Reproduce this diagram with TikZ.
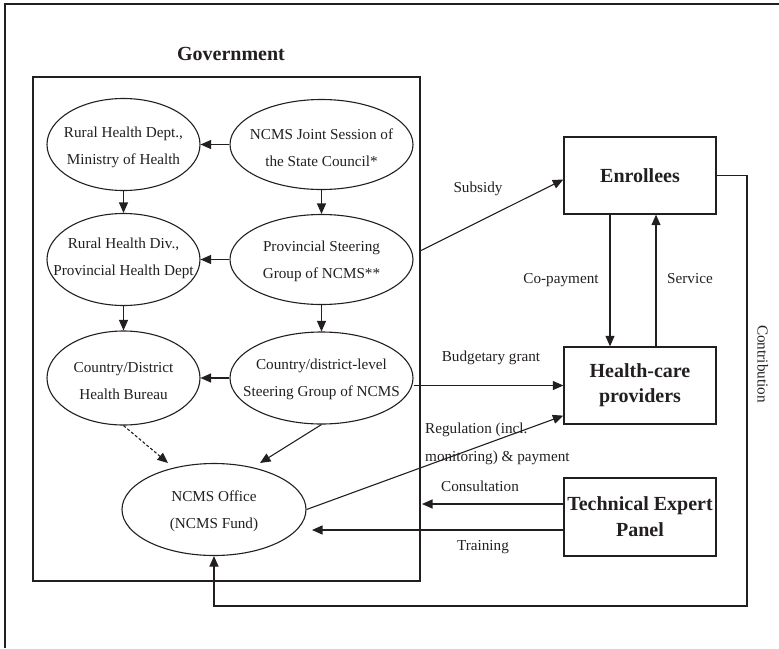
\documentclass[tikz,border=0pt]{standalone}
\usepackage{fontspec}
\setmainfont{Liberation Serif}
\usetikzlibrary{arrows.meta,shapes.geometric}
\definecolor{ink}{HTML}{231F20}
\begin{document}
\begin{tikzpicture}[x=1pt,y=-1pt,
  every node/.style={text=ink},
  ell/.style={draw=ink, ellipse, line width=1.1pt, inner sep=0pt},
  elltxt/.style={align=center, font=\fontsize{15.2}{27}\selectfont, inner sep=0pt},
  bx/.style={draw=ink, line width=1.3pt, minimum width=152pt, minimum height=77pt, inner sep=1pt, align=center, font=\fontsize{20}{25}\selectfont\bfseries},
  lbl/.style={font=\fontsize{15.2}{28}\selectfont, inner sep=0pt, text height=0.7em, text depth=0.2em},
  arr/.style={draw=ink, line width=1.1pt, -{Triangle[length=10.5pt,width=9pt]}},
  darr/.style={arr, dash pattern=on 3pt off 2pt}
]
\useasboundingbox (0,0) rectangle (779,648);
\draw[line width=1.4pt, draw=ink] (5,648) -- (5,4) -- (779,4);

\node[font=\fontsize{20}{24}\selectfont\bfseries, inner sep=0pt] (govlbl) at (231,54) {Government};
\node[draw=ink, line width=1.3pt, minimum width=387pt, minimum height=504pt, inner sep=0pt] (gov) at (226.5,329) {};

% ellipses
\node[ell, minimum width=153pt, minimum height=92pt] (A) at (123.5,144.5) {};
\node[elltxt] (At) at (123.5,147.5) {Rural Health Dept.,\\Ministry of Health};
\node[ell, minimum width=183pt, minimum height=90pt] (B) at (321.5,144.5) {};
\node[elltxt] (Bt) at (321.5,147.5) {NCMS Joint Session of\\the State Council*};
\node[ell, minimum width=153pt, minimum height=92pt] (C) at (123.5,259.5) {};
\node[elltxt] (Ct) at (123.5,258.5) {Rural Health Div.,\\Provincial Health Dept};
\node[ell, minimum width=183pt, minimum height=90pt] (D) at (321.5,259.5) {};
\node[elltxt] (Dt) at (321.5,261) {Provincial Steering\\Group of NCMS**};
\node[ell, minimum width=153pt, minimum height=94pt] (E) at (123.5,378) {};
\node[elltxt] (Et) at (123.5,381) {Country/District\\Health Bureau};
\node[ell, minimum width=183pt, minimum height=92pt] (F) at (321.5,378) {};
\node[elltxt] (Ft) at (321.5,379.5) {Country/district-level\\Steering Group of NCMS};
\node[ell, minimum width=184pt, minimum height=92pt] (G) at (214,509.5) {};
\node[elltxt] (Gt) at (214,511) {NCMS Office\\(NCMS Fund)};

% boxes
\node[bx] (Enr) at (640,175.5) {Enrollees};
\node[bx] (HC) at (640,385.5) {Health-care\\providers};
\node[bx, minimum height=78pt, font=\fontsize{20}{26}\selectfont\bfseries] (TEP) at (640,517) {Technical Expert\\Panel};

% coordinates for free ends
\coordinate (gE) at (168,463);
\coordinate (gF) at (260,463);
\coordinate (subS) at (420,251);
\coordinate (consE) at (422,504);
\coordinate (trE) at (312,530);
\coordinate (cRB) at (747,606);

% government arrows
\draw[arr] (B.west) -- (A.east);
\draw[arr] (D.west) -- (C.east);
\draw[arr] (F.west) -- (E.east);
\draw[arr] (A.south) -- (C.north);
\draw[arr] (C.south) -- (E.north);
\draw[arr] (B.south) -- (D.north);
\draw[arr] (D.south) -- (F.north);
\draw[darr] (E.south) -- (gE);
\draw[arr] (F.south) -- (gF);

% external connectors
\draw[arr] (subS) -- ([yshift=-4pt]Enr.west);
\draw[arr] (F.east |- HC.west) -- (HC.west);
\draw[arr] (G.east) -- ([yshift=9pt]HC.south west);
\draw[arr] ([xshift=-30pt]Enr.south) -- ([xshift=-30pt]HC.north);
\draw[arr] ([xshift=16pt]HC.north) -- ([xshift=16pt]Enr.south);
\draw[arr] ([yshift=13pt]TEP.west) -- (consE);
\draw[arr] ([yshift=-13pt]TEP.west) -- (trE);
\draw[arr] (Enr.east) -| (cRB) -| (G.south);

% labels
\node[lbl] (lsub) at (478,190) {Subsidy};
\node[lbl] (lcop) at (561,281) {Co-payment};
\node[lbl] (lser) at (690,281) {Service};
\node[lbl] (lbud) at (491,359) {Budgetary grant};
\node[font=\fontsize{15.2}{28}\selectfont, inner sep=0pt, align=left, anchor=west] (lreg) at (425,444) {Regulation (incl.\\monitoring) \& payment};
\node[lbl] (lcon) at (480,489) {Consultation};
\node[lbl] (ltr) at (483,548) {Training};
\node[lbl, rotate=-90] (lctb) at (760,364) {Contribution};
\end{tikzpicture}
\end{document}
